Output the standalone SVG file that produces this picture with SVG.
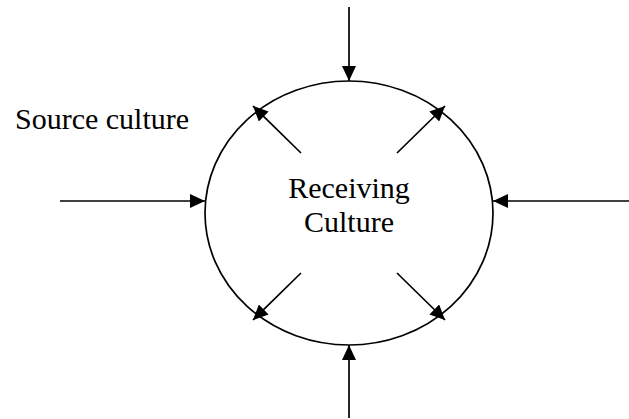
<svg xmlns="http://www.w3.org/2000/svg" width="629" height="419" viewBox="0 0 629 419">
  <style>
    .line { stroke: #000; stroke-width: 1.7; fill: none; }
    .label { font-family: "Liberation Serif", "Times New Roman", serif; font-size: 30px; fill: #000; }
  </style>
  <defs>
    <marker id="arrow" viewBox="0 0 15 14" refX="15" refY="7" markerWidth="15" markerHeight="14" markerUnits="userSpaceOnUse" orient="auto">
      <path d="M0,0 L15,7 L0,14 Z" fill="#000"/>
    </marker>
  </defs>
  <rect width="629" height="419" fill="#fff"/>

  <g id="receiving-culture">
    <ellipse class="line" cx="349" cy="213" rx="144" ry="132"/>
    <text class="label" x="349" y="198" text-anchor="middle">Receiving</text>
    <text class="label" x="349" y="232" text-anchor="middle">Culture</text>
  </g>

  <g id="source-culture">
    <text class="label" x="15" y="129">Source culture</text>
  </g>

  <g id="connectors">
    <line class="line" x1="349" y1="7" x2="349" y2="81" marker-end="url(#arrow)"/>
    <line class="line" x1="349" y1="418" x2="349" y2="345" marker-end="url(#arrow)"/>
    <line class="line" x1="60" y1="201" x2="205" y2="201" marker-end="url(#arrow)"/>
    <line class="line" x1="629" y1="201" x2="493" y2="201" marker-end="url(#arrow)"/>
    <line class="line" x1="301" y1="153" x2="253" y2="106" marker-end="url(#arrow)"/>
    <line class="line" x1="397" y1="153" x2="445" y2="106" marker-end="url(#arrow)"/>
    <line class="line" x1="301" y1="273" x2="253" y2="320" marker-end="url(#arrow)"/>
    <line class="line" x1="397" y1="273" x2="445" y2="320" marker-end="url(#arrow)"/>
  </g>
</svg>
